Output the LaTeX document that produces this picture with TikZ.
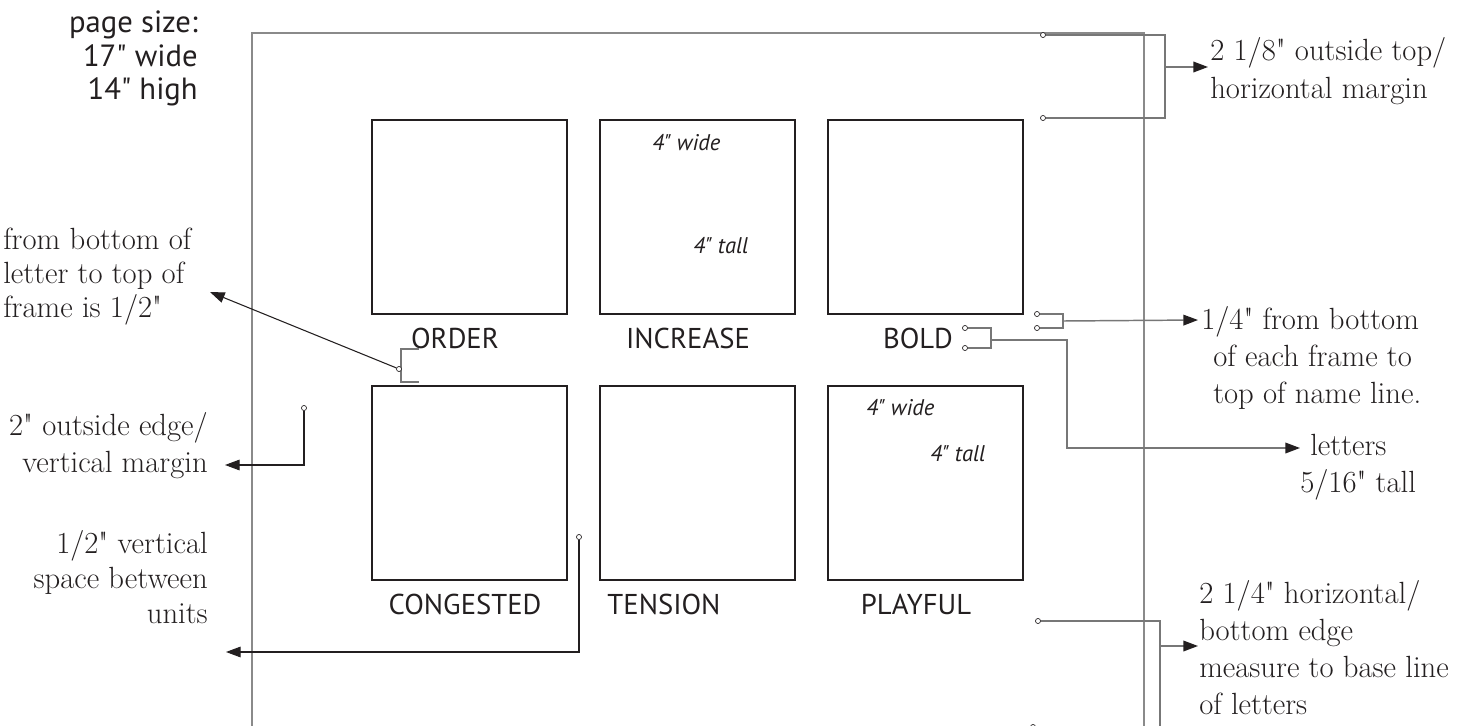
\documentclass[tikz,border=0pt]{standalone}
\usepackage{fontspec}
\newfontfamily\serifface{Latin Modern Roman}
\newfontfamily\sansface{PT Sans}
\usetikzlibrary{arrows.meta}
\definecolor{ink}{HTML}{231F20}
\definecolor{guidegray}{HTML}{777777}
\definecolor{edgegray}{HTML}{8A8A8A}
\begin{document}
\begin{tikzpicture}[x=0.75pt,y=-0.75pt,
  unitbox/.style={draw=ink, line width=1.5pt, minimum width=146.25pt, minimum height=145.5pt, inner sep=0, anchor=north west},
  serif/.style={font=\serifface\fontsize{23}{27}\selectfont, text=ink, inner sep=0},
  sans/.style={font=\sansface\fontsize{21.5}{25}\selectfont, text=ink, inner sep=0},
  bigsans/.style={font=\sansface\fontsize{23}{27}\selectfont, text=ink, inner sep=0},
  ital/.style={font=\sansface\itshape\fontsize{17}{20}\selectfont, text=ink, inner sep=0},
  pageedge/.style={draw=edgegray, line width=1.1pt},
  guide/.style={draw=guidegray, line width=1.1pt},
  pointer/.style={draw=ink, line width=0.8pt, -{Triangle[length=11pt,width=8pt]}},
  gpointer/.style={draw=guidegray, line width=1.1pt, -{Triangle[length=11pt,width=8pt,color=ink]}},
  pin/.style={circle, draw=ink, fill=white, line width=0.5pt, inner sep=0, minimum size=3.8pt},
]
\clip (0,0) rectangle (1475,725);
\fill[white] (0,0) rectangle (1475,725);

% page edge
\draw[pageedge] (252,740) -- (252,33) -- (1144,33) -- (1144,740);

% frames
\node[unitbox] (order) at (371,119) {};
\node[unitbox] (increase) at (599,119) {};
\node[unitbox] (bold) at (827,119) {};
\node[unitbox] (congested) at (371,385) {};
\node[unitbox] (tension) at (599,385) {};
\node[unitbox] (playful) at (827,385) {};

% name lines
\node[sans, anchor=base] (lorder) at (455,348) {ORDER};
\node[sans, anchor=base] (lincrease) at (688,348) {INCREASE};
\node[sans, anchor=base] (lbold) at (918,348) {BOLD};
\node[sans, anchor=base] (lcongested) at (465,614) {CONGESTED};
\node[sans, anchor=base] (ltension) at (664,614) {TENSION};
\node[sans, anchor=base] (lplayful) at (916,614) {PLAYFUL};

% italic size notes
\node[ital, anchor=base west] (w1) at (652,150) {4" wide};
\node[ital, anchor=base west] (t1) at (693,253) {4" tall};
\node[ital, anchor=base west] (w2) at (866,415) {4" wide};
\node[ital, anchor=base west] (t2) at (930,461) {4" tall};

% page size
\node[bigsans, anchor=base east] (ps1) at (198,32) {page size:};
\node[bigsans, anchor=base east] (ps2) at (198,66) {17" wide};
\node[bigsans, anchor=base east] (ps3) at (198,99) {14" high};

% left notes
\node[serif, anchor=base west] (fb1) at (3,249) {from bottom of};
\node[serif, anchor=base west] (fb2) at (3,283) {letter to top of};
\node[serif, anchor=base west] (fb3) at (3,317) {frame is 1/2"};
\node[serif, anchor=base east] (oe1) at (208,435) {2" outside edge/};
\node[serif, anchor=base east] (oe2) at (208,472) {vertical margin};
\node[serif, anchor=base east] (vs1) at (208,553) {1/2" vertical};
\node[serif, anchor=base east] (vs2) at (208,588) {space between};
\node[serif, anchor=base east] (vs3) at (208,623) {units};

% right notes
\node[serif, anchor=base west] (tm1) at (1210,60) {2 1/8" outside top/};
\node[serif, anchor=base west] (tm2) at (1210,98) {horizontal margin};
\node[serif, anchor=base west] (fr1) at (1201,329) {1/4" from bottom};
\node[serif, anchor=base west] (fr2) at (1213,366) {of each frame to};
\node[serif, anchor=base west] (fr3) at (1213,403) {top of name line.};
\node[serif, anchor=base west] (lt1) at (1310,455) {letters};
\node[serif, anchor=base west] (lt2) at (1300,492) {5/16" tall};
\node[serif, anchor=base west] (hb1) at (1199,603) {2 1/4" horizontal/};
\node[serif, anchor=base west] (hb2) at (1199,640) {bottom edge};
\node[serif, anchor=base west] (hb3) at (1199,677) {measure to base line};
\node[serif, anchor=base west] (hb4) at (1199,714) {of letters};

% arrow tips
\coordinate (atop) at (1208,67);
\coordinate (afn) at (1198,320);
\coordinate (alt) at (1300,448);
\coordinate (afb) at (210,292);
\coordinate (aoe) at (225,465);
\coordinate (avs) at (226,652);
\coordinate (abr) at (1198,646);

% top margin bracket
\node[pin] (tp1) at (1043,35) {};
\node[pin] (tp2) at (1043,118) {};
\draw[guide] (tp1) -- (1165,35) -- (1165,118) -- (tp2);
\draw[gpointer] (1165,67) -- (atop);

% frame to name line bracket
\node[pin] (fn1) at (1037,314) {};
\node[pin] (fn2) at (1037,328) {};
\draw[guide] (fn1) -- (1063,314) -- (1063,328) -- (fn2);
\draw[gpointer] (1063,321) -- (afn);

% letter height bracket
\node[pin] (lh1) at (965,328) {};
\node[pin] (lh2) at (965,348) {};
\draw[guide] (lh1) -- (991,328) -- (991,348) -- (lh2);
\draw[gpointer] (991,340) -- (1067,340) -- (1067,448) -- (alt);

% letter to frame bracket
\draw[guide] (419,349) -- (401,349) -- (401,382) -- (419,382);
\node[pin] (ob) at (399,369) {};
\draw[pointer] (ob) -- (afb);

% outside edge
\node[pin] (oe) at (304,408) {};
\draw[pointer] (oe) -- (304,465) -- (aoe);

% vertical space
\node[pin] (vs) at (579,537) {};
\draw[pointer] (vs) -- (579,652) -- (avs);

% bottom edge bracket
\node[pin] (br1) at (1038,621) {};
\node[pin] (br2) at (1033,727) {};
\draw[guide] (br1) -- (1160,621) -- (1160,727) -- (br2);
\draw[gpointer] (1160,646) -- (abr);
\end{tikzpicture}
\end{document}
